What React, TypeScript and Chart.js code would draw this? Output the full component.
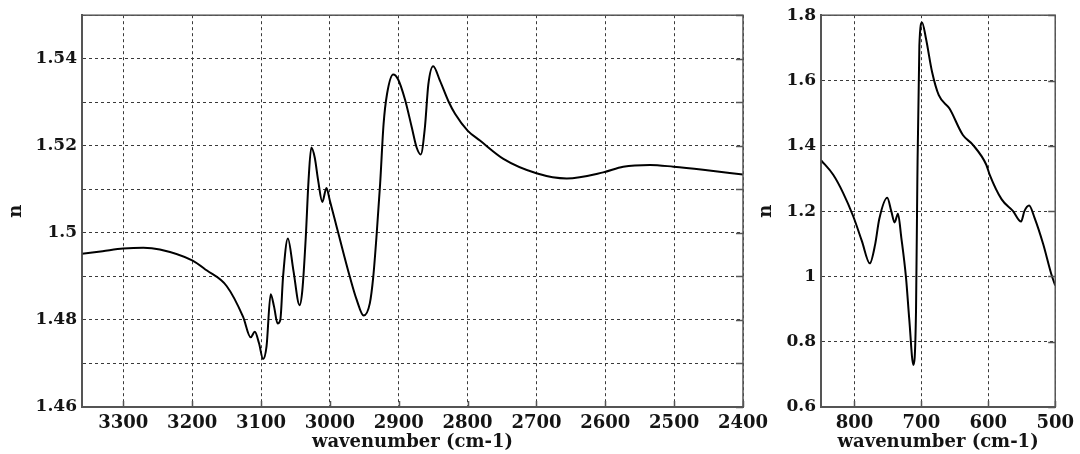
import React, { useEffect, useRef } from "react";
import { Chart, registerables } from "chart.js";

Chart.register(...registerables);

// Left panel: 3360–2400 cm-1
const leftWavenumbers = [
  3360, 3330, 3300, 3271, 3247, 3200, 3179, 3150, 3126, 3115, 3109, 3103, 3097, 3092,
  3086, 3081, 3076, 3072, 3068, 3061, 3053, 3044, 3040, 3035, 3031, 3027, 3022, 3017, 3011,
  3005, 3000, 2990, 2980, 2971, 2961, 2951, 2942, 2937, 2932, 2927, 2922, 2917, 2908, 2901,
  2891, 2881, 2874, 2868, 2862, 2857, 2850, 2840, 2828, 2818, 2800, 2782, 2748, 2700, 2656,
  2603, 2574, 2535, 2501, 2458, 2400,
];
const leftIndex = [
  1.4952, 1.4958, 1.4964, 1.4966, 1.4962, 1.4937, 1.4914, 1.4878, 1.4807, 1.476, 1.4773, 1.4747, 1.471, 1.4739,
  1.4859, 1.483, 1.4792, 1.48, 1.4899, 1.4987, 1.4914, 1.4834, 1.4868, 1.499, 1.512, 1.5196, 1.5173, 1.512, 1.5071,
  1.5103, 1.5074, 1.5013, 1.4952, 1.4899, 1.4846, 1.481, 1.4838, 1.4899, 1.4998, 1.5113, 1.525, 1.5319, 1.5364, 1.5353,
  1.5307, 1.5242, 1.5196, 1.518, 1.5242, 1.5341, 1.5383, 1.5349, 1.5303, 1.5273, 1.5235, 1.5212, 1.517, 1.5137, 1.5125,
  1.5139, 1.5152, 1.5156, 1.5152, 1.5145, 1.5134,
];

// Right panel: 850–500 cm-1
const rightWavenumbers = [
  850, 832, 817, 802, 789, 777, 769, 763, 751, 745, 740, 735, 730, 723, 718, 712, 708, 706,
  703, 699, 693, 684, 674, 658, 638, 623, 603, 598, 580, 563, 551, 546, 539, 531, 518, 506, 500,
];
const rightIndex = [
  1.356, 1.312, 1.256, 1.185, 1.109, 1.04, 1.099, 1.175, 1.241, 1.2, 1.165, 1.192, 1.119, 0.997, 0.866, 0.729, 0.896, 1.3,
  1.707, 1.778, 1.727, 1.626, 1.555, 1.514, 1.433, 1.403, 1.342, 1.312, 1.236, 1.2, 1.168, 1.2, 1.217, 1.18, 1.099, 1.008, 0.972,
];

const xTitle = "wavenumber (cm-1)";
const yTitle = "n";

const FONT = "'DejaVu Serif', 'Liberation Serif', serif";
const TEXT = "#141414";
const GRID = "#3a3a3a";
const BORDER = "#555555";

type PanelSpec = {
  left: number;
  width: number;
  height: number;
  xs: number[];
  ys: number[];
  xMin: number;
  xMax: number;
  xStep: number;
  yMin: number;
  yMax: number;
  yStep: number;
  yLabel: (v: number) => string;
  yAxisWidth: number;
  padTop: number;
  padRight: number;
  xAxisHeight: number;
};

function buildConfig(s: PanelSpec): any {
  return {
    type: "scatter",
    data: {
      datasets: [
        {
          data: s.xs.map((x, i) => ({ x, y: s.ys[i] })),
          showLine: true,
          borderColor: "#000000",
          borderWidth: 2,
          pointRadius: 0,
          cubicInterpolationMode: "monotone",
          fill: false,
        },
      ],
    },
    options: {
      animation: false,
      responsive: false,
      devicePixelRatio: 1,
      layout: { padding: { left: 0, top: s.padTop, right: s.padRight, bottom: 0 } },
      plugins: { legend: { display: false }, tooltip: { enabled: false } },
      scales: {
        x: {
          type: "linear",
          reverse: true,
          min: s.xMin,
          max: s.xMax,
          afterFit: (scale: any) => {
            scale.height = s.xAxisHeight;
          },
          ticks: {
            stepSize: s.xStep,
            includeBounds: false,
            autoSkip: false,
            maxRotation: 0,
            padding: 6,
            color: TEXT,
            font: { family: FONT, size: 18, weight: "bold" },
            callback: (v: any) => String(Math.round(Number(v))),
          },
          grid: {
            color: GRID,
            lineWidth: 1,
            drawTicks: false,
          },
          border: { display: true, color: BORDER, width: 2, dash: [3, 3] },
          title: {
            display: true,
            text: xTitle,
            color: TEXT,
            font: { family: FONT, size: 18, weight: "bold" },
            padding: { top: 0, bottom: 1 },
          },
        },
        y: {
          type: "linear",
          min: s.yMin,
          max: s.yMax,
          afterFit: (scale: any) => {
            scale.width = s.yAxisWidth;
          },
          ticks: {
            stepSize: s.yStep,
            includeBounds: false,
            autoSkip: false,
            padding: 5,
            color: TEXT,
            font: { family: FONT, size: 17, weight: "bold" },
            callback: (v: any) => s.yLabel(Number(v)),
          },
          grid: {
            color: GRID,
            lineWidth: 1,
            drawTicks: false,
          },
          border: { display: true, color: BORDER, width: 2, dash: [3, 3] },
          title: {
            display: true,
            text: yTitle,
            color: TEXT,
            font: { family: FONT, size: 18, weight: "bold" },
            padding: { top: 6, bottom: 0 },
          },
        },
      },
    },
    plugins: [
      {
        id: "frame",
        afterDraw(chart: any) {
          const { ctx, chartArea } = chart;
          const xs = chart.scales.x;
          const ys = chart.scales.y;
          ctx.save();
          ctx.strokeStyle = BORDER;
          ctx.setLineDash([]);
          ctx.lineWidth = 1.5;
          ctx.beginPath();
          ys.ticks.forEach((t: any) => {
            const py = Math.round(ys.getPixelForValue(t.value)) + 0.5;
            ctx.moveTo(chartArea.right - 7, py);
            ctx.lineTo(chartArea.right, py);
          });
          xs.ticks.forEach((t: any) => {
            const px = Math.round(xs.getPixelForValue(t.value)) + 0.5;
            ctx.moveTo(px, chartArea.bottom - 6);
            ctx.lineTo(px, chartArea.bottom);
          });
          ctx.stroke();
          ctx.strokeRect(chartArea.left, chartArea.top, chartArea.right - chartArea.left, chartArea.bottom - chartArea.top);
          ctx.restore();
        },
      },
    ],
  };
}

function Panel({ spec }: { spec: PanelSpec }) {
  const ref = useRef<HTMLCanvasElement | null>(null);
  useEffect(() => {
    if (!ref.current) return;
    const chart = new Chart(ref.current, buildConfig(spec));
    return () => chart.destroy();
  }, []);
  return (
    <canvas
      ref={ref}
      width={spec.width}
      height={spec.height}
      style={{ position: "absolute", left: spec.left, top: 0, width: spec.width, height: spec.height }}
    />
  );
}

const leftSpec: PanelSpec = {
  left: 0,
  width: 780,
  height: 454,
  xs: leftWavenumbers,
  ys: leftIndex,
  xMin: 2400,
  xMax: 3360,
  xStep: 100,
  yMin: 1.46,
  yMax: 1.55,
  yStep: 0.01,
  yLabel: (v) => {
    const k = Math.round(v * 100);
    return k % 2 === 0 ? String(+(k / 100).toFixed(2)) : "";
  },
  yAxisWidth: 82,
  padTop: 14,
  padRight: 37,
  xAxisHeight: 47,
};

const rightSpec: PanelSpec = {
  left: 750,
  width: 330,
  height: 454,
  xs: rightWavenumbers,
  ys: rightIndex,
  xMin: 500,
  xMax: 850,
  xStep: 100,
  yMin: 0.6,
  yMax: 1.8,
  yStep: 0.2,
  yLabel: (v) => String(+v.toFixed(1)),
  yAxisWidth: 71,
  padTop: 13,
  padRight: 24,
  xAxisHeight: 47,
};

export default function App() {
  return (
    <div style={{ position: "absolute", left: 0, top: 0, width: 1080, height: 454, background: "#ffffff", overflow: "hidden" }}>
      <Panel spec={leftSpec} />
      <Panel spec={rightSpec} />
    </div>
  );
}
